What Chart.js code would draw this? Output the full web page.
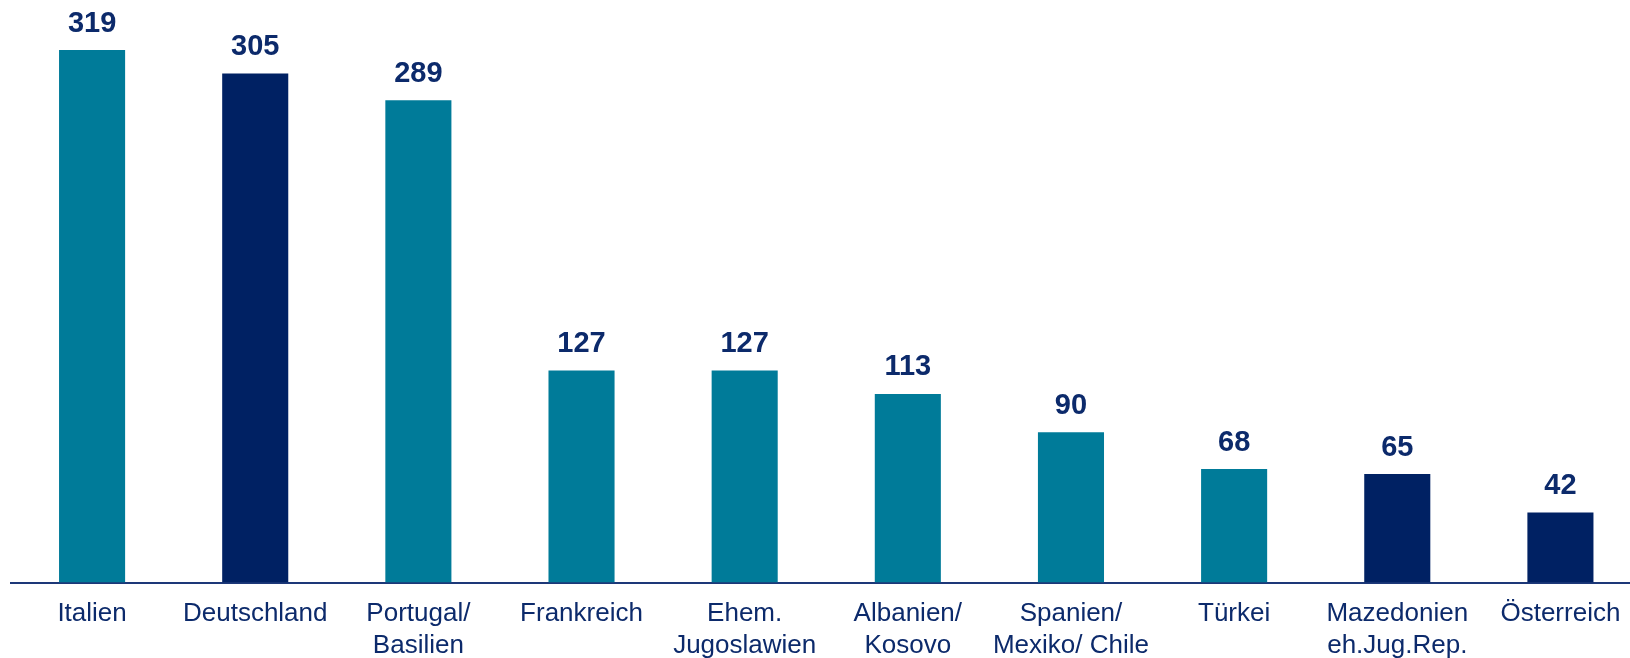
<!DOCTYPE html>
<html>
<head>
<meta charset="utf-8">
<script src="https://cdn.jsdelivr.net/npm/chart.js@4.4.1/dist/chart.umd.min.js"></script>
<style>
  html, body { margin: 0; padding: 0; background: #ffffff; overflow: hidden; }
  #wrap { width: 1642px; height: 677px; position: relative; }
</style>
</head>
<body>
<div id="wrap"><canvas id="c"></canvas></div>
<script>
const categories = [
  "Italien",
  "Deutschland",
  ["Portugal/", "Basilien"],
  "Frankreich",
  ["Ehem.", "Jugoslawien"],
  ["Albanien/", "Kosovo"],
  ["Spanien/", "Mexiko/ Chile"],
  "Türkei",
  ["Mazedonien", "eh.Jug.Rep."],
  "Österreich"
];
const values = [319, 305, 289, 127, 127, 113, 90, 68, 65, 42];
const barGroup = ["t", "n", "t", "t", "t", "t", "t", "t", "n", "n"];

const TEAL = "#007B99";
const NAVY = "#002163";
const TEXT = "#0C2A6B";

const valueLabels = {
  id: "valueLabels",
  afterDatasetsDraw(chart) {
    const ctx = chart.ctx;
    const meta = chart.getDatasetMeta(0);
    ctx.save();
    ctx.font = "bold 29px 'Liberation Sans', Arial, sans-serif";
    ctx.fillStyle = TEXT;
    ctx.textAlign = "center";
    ctx.textBaseline = "alphabetic";
    meta.data.forEach((bar, i) => {
      ctx.fillText(String(values[i]), bar.x, bar.y - 18.5);
    });
    ctx.restore();
  }
};

new Chart(document.getElementById("c"), {
  type: "bar",
  data: {
    labels: categories,
    datasets: [{
      data: values,
      backgroundColor: barGroup.map(g => g === "n" ? NAVY : TEAL),
      borderWidth: 0,
      barPercentage: 0.405,
      categoryPercentage: 1.0
    }]
  },
  options: {
    responsive: true,
    maintainAspectRatio: false,
    animation: false,
    layout: { padding: { left: 10.5, right: 0, top: 0, bottom: 0 } },
    plugins: { legend: { display: false }, tooltip: { enabled: false } },
    scales: {
      x: {
        grid: { display: false, drawTicks: false },
        border: { display: true, color: "#1D3878", width: 2 },
        ticks: {
          color: TEXT,
          padding: 15,
          maxRotation: 0,
          autoSkip: false,
          font: { family: "'Liberation Sans', Arial, sans-serif", size: 26, lineHeight: 1.24 }
        }
      },
      y: {
        display: false,
        min: 0,
        max: 349
      }
    }
  },
  plugins: [valueLabels]
});
</script>
</body>
</html>
